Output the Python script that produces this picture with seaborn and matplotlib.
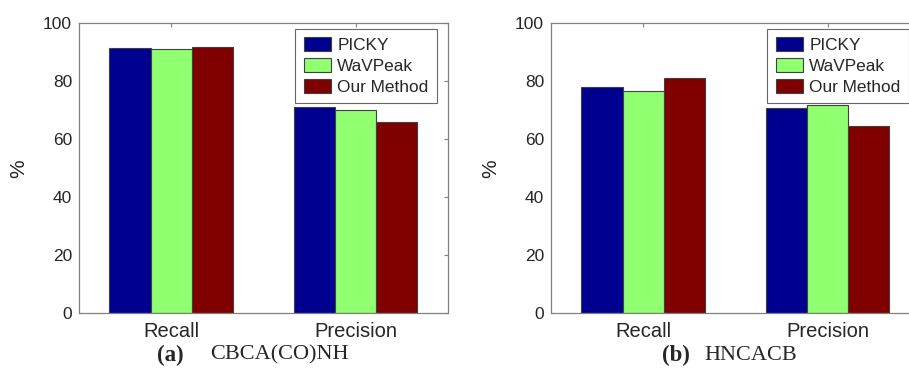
import pandas as pd
import matplotlib
matplotlib.use("Agg")
import matplotlib.pyplot as plt
import seaborn as sns

# values (percent)
metrics = ["Recall", "Precision"]
methods = ["PICKY", "WaVPeak", "Our Method"]
cbca_picky = [91.6, 71.2]
cbca_wavpeak = [91.3, 70.1]
cbca_ours = [92.0, 66.0]
hncacb_picky = [78.2, 70.8]
hncacb_wavpeak = [76.6, 71.8]
hncacb_ours = [81.2, 64.6]
captions = [("(a)", "CBCA(CO)NH"), ("(b)", "HNCACB")]
palette = ["#000090", "#90FF70", "#800000"]


def to_frame(picky, wavpeak, ours):
    rows = []
    for name, vals in zip(methods, [picky, wavpeak, ours]):
        for m, v in zip(metrics, vals):
            rows.append({"metric": m, "method": name, "value": v})
    return pd.DataFrame(rows)


frames = [to_frame(cbca_picky, cbca_wavpeak, cbca_ours),
          to_frame(hncacb_picky, hncacb_wavpeak, hncacb_ours)]

sns.set_style("white")
plt.rcParams["font.family"] = ["Liberation Sans", "DejaVu Sans"]

W, H = 909, 373
fig = plt.figure(figsize=(W / 100, H / 100), dpi=100)
ax_w, ax_h = 368.7, 290
lefts = [79, 551]
bottom = H - 313.3
# caption x positions in pixels: (tag start, name start)
cap_x = [(157, 210), (662, 704)]

for i, df in enumerate(frames):
    ax = fig.add_axes([lefts[i] / W, bottom / H, ax_w / W, ax_h / H])
    sns.barplot(data=df, x="metric", y="value", hue="method", hue_order=methods,
                palette=palette, width=0.67, edgecolor="#404040", linewidth=0.8,
                saturation=1, ax=ax)
    ax.set_xlim(-0.5, 1.5)
    ax.set_ylim(0, 100)
    ax.set_yticks([0, 20, 40, 60, 80, 100])
    ax.set_xlabel("")
    ax.set_ylabel("%", fontsize=15, labelpad=11)
    ax.tick_params(axis="both", direction="in", length=3, color="#808080",
                   labelsize=12.5, top=True, right=True, pad=5)
    ax.tick_params(axis="x", labelsize=14.5, pad=6)
    for s in ax.spines.values():
        s.set_visible(True)
        s.set_color("#808080")
        s.set_linewidth(0.9)
    leg = ax.legend(loc="lower left", bbox_to_anchor=(0.586, 0.724),
                    fontsize=12.4, frameon=True, fancybox=False,
                    edgecolor="#404040", handlelength=1.6, handleheight=0.88,
                    handletextpad=0.35, labelspacing=0.28, borderpad=0.5,
                    borderaxespad=0)
    leg.get_frame().set_linewidth(0.8)
    tag, name = captions[i]
    fig.text(cap_x[i][0] / W, 1 - 355 / H, tag, ha="left", va="center",
             fontsize=16.5, fontweight="bold", family="Liberation Serif")
    fig.text(cap_x[i][1] / W, 1 - 355 / H, name, ha="left", va="center",
             fontsize=16, family="Liberation Serif")

fig.savefig("out.png", dpi=100)
